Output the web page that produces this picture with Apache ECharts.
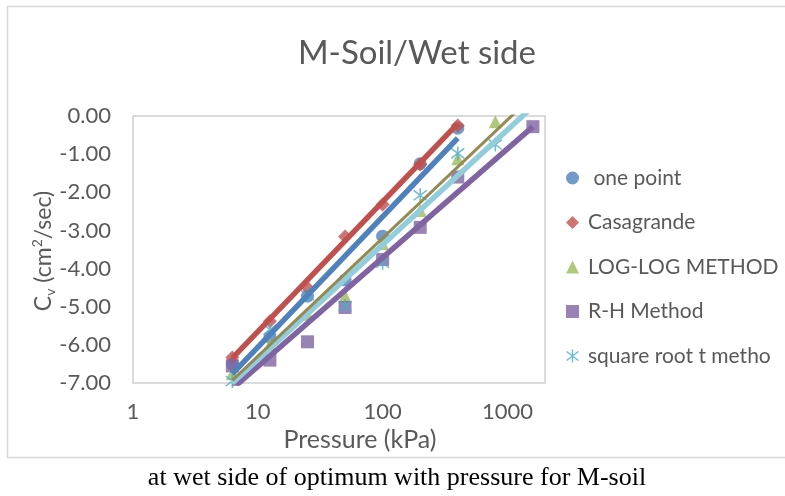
<!DOCTYPE html>
<html>
<head>
<meta charset="utf-8">
<script src="https://cdn.jsdelivr.net/npm/echarts@6/dist/echarts.min.js"></script>
<style>html,body{margin:0;padding:0;background:#fff;}#chart{width:785px;height:496px;}</style>
</head>
<body>
<div id="chart"></div>
<script>
// ---- data ----
const seriesNames = [' one point', 'Casagrande', 'LOG-LOG METHOD', 'R-H Method', 'square root t metho'];
const xTickLabels = ['1', '10', '100', '1000'];
const yTickValues = [0, -1, -2, -3, -4, -5, -6, -7];

const onePointP = [6.25, 12.5, 25, 50, 100, 200, 400];
const onePointCv = [-6.5, -5.8, -4.72, -4.3, -3.15, -1.25, -0.32];

const casagrandeP = [6.25, 12.5, 25, 50, 100, 200, 400];
const casagrandeCv = [-6.33, -5.38, -4.5, -3.16, -2.32, -1.27, -0.25];

const logLogP = [6.25, 12.5, 25, 50, 100, 200, 400, 800];
const logLogCv = [-6.75, -6.0, -5.2, -4.72, -3.35, -2.48, -1.12, -0.15];

const rhP = [6.25, 12.5, 25, 50, 100, 200, 400, 1600];
const rhCv = [-6.55, -6.4, -5.92, -5.02, -3.76, -2.92, -1.6, -0.28];

const sqrtP = [6.25, 12.5, 25, 50, 100, 200, 400, 800];
const sqrtCv = [-6.95, -5.6, -4.7, -4.98, -3.85, -2.08, -0.98, -0.75];

// trendline end points
const onePointTrendP = [6.25, 400];
const onePointTrendCv = [-6.76, -0.58];
const casagrandeTrendP = [6.25, 400];
const casagrandeTrendCv = [-6.35, -0.2];
const logLogTrendP = [6.25, 1600];
const logLogTrendCv = [-6.93, 0.53];
const rhTrendP = [6.25, 1600];
const rhTrendCv = [-7.15, -0.28];
const sqrtTrendP = [6.25, 1600];
const sqrtTrendCv = [-7.0, 0.25];

// ---- styling ----
const FONT = 'Lato';
const GREY = '#595959';
function bar(x1, y1, x2, y2, w) {
  const dx = x2 - x1, dy = y2 - y1, L = Math.hypot(dx, dy);
  const nx = -dy / L * w, ny = dx / L * w;
  return 'M' + (x1 + nx) + ',' + (y1 + ny) + 'L' + (x2 + nx) + ',' + (y2 + ny) +
         'L' + (x2 - nx) + ',' + (y2 - ny) + 'L' + (x1 - nx) + ',' + (y1 - ny) + 'Z';
}
const asterisk = 'path://' + bar(10, 0, 10, 20, 1.1) + bar(1, 3, 19, 17, 1.1) + bar(1, 17, 19, 3, 1.1);

function pairs(xs, ys) { return xs.map((x, i) => [x, ys[i]]); }

function scatter(name, xs, ys, color, symbol, size) {
  return { name, type: 'scatter', data: pairs(xs, ys), symbol, symbolSize: size,
           itemStyle: { color }, z: 2, silent: true };
}
function trend(name, xs, ys, color, width, z) {
  return { name, type: 'line', data: pairs(xs, ys), showSymbol: false, symbol: 'none',
           lineStyle: { color, width }, itemStyle: { color }, z, clip: true, silent: true };
}

const chart = echarts.init(document.getElementById('chart'), null, { renderer: 'canvas' });
const option = {
  animation: false,
  backgroundColor: '#ffffff',
  grid: { left: 133, top: 116, width: 412, height: 267, show: true,
          borderColor: '#d0d0d0', borderWidth: 1.5, backgroundColor: 'transparent' },
  xAxis: {
    type: 'log', logBase: 10, min: 1, max: 2000,
    axisLine: { show: false }, axisTick: { show: false }, splitLine: { show: false },
    axisLabel: {
      color: GREY, fontFamily: FONT, fontSize: 22, margin: 18,
      showMaxLabel: false,
      formatter: function (v) {
        const l = Math.log10(v);
        if (Math.abs(l - Math.round(l)) < 1e-6) {
          const idx = Math.round(l);
          return xTickLabels[idx] !== undefined ? xTickLabels[idx] : '';
        }
        return '';
      }
    }
  },
  yAxis: {
    type: 'value', min: yTickValues[yTickValues.length - 1], max: yTickValues[0], interval: 1,
    axisLine: { show: false }, axisTick: { show: false }, splitLine: { show: false },
    axisLabel: { color: GREY, fontFamily: FONT, fontSize: 22, margin: 22,
                 formatter: v => v.toFixed(2) }
  },
  legend: {
    data: seriesNames, orient: 'vertical', left: 566, top: 167, padding: 0,
    itemGap: 22.5, itemWidth: 13, itemHeight: 13, selectedMode: false,
    textStyle: { color: GREY, fontFamily: FONT, fontSize: 21, lineHeight: 22, padding: [0, 0, 0, 4] }
  },
  graphic: [
    { type: 'rect', shape: { x: 7.5, y: 6.5, width: 900, height: 451 },
      style: { fill: 'none', stroke: '#d9d9d9', lineWidth: 1.5 }, z: -10, silent: true },
    { type: 'text', x: 417, y: 53,
      style: { text: 'M-Soil/Wet side', fill: GREY, font: '33px ' + FONT,
               textAlign: 'center', textVerticalAlign: 'middle' } },
    { type: 'text', x: 360, y: 440,
      style: { text: 'Pressure (kPa)', fill: GREY, font: '25px ' + FONT,
               textAlign: 'center', textVerticalAlign: 'middle' } },
    { type: 'text', x: 44, y: 251, rotation: Math.PI / 2,
      style: {
        text: '{c|C}{s|v}{c| (cm}{p|2}{c|/sec)}',
        textAlign: 'center', textVerticalAlign: 'middle',
        rich: {
          c: { fill: GREY, fontFamily: FONT, fontSize: 23, lineHeight: 27, verticalAlign: 'middle' },
          s: { fill: GREY, fontFamily: FONT, fontSize: 14, lineHeight: 15, verticalAlign: 'bottom' },
          p: { fill: GREY, fontFamily: FONT, fontSize: 14, lineHeight: 15, verticalAlign: 'top' }
        }
      } },
    { type: 'text', x: 397, y: 478,
      style: { text: 'at wet side of optimum with pressure for M-soil', fill: '#000',
               font: '26px "Liberation Serif"', textAlign: 'center', textVerticalAlign: 'middle' } }
  ],
  series: [
    scatter(seriesNames[0], onePointP, onePointCv, '#4f81bd', 'circle', 13),
    scatter(seriesNames[1], casagrandeP, casagrandeCv, '#c0504d', 'diamond', 14),
    scatter(seriesNames[2], logLogP, logLogCv, '#9bbb59', 'triangle', 13),
    scatter(seriesNames[3], rhP, rhCv, '#8064a2', 'rect', 13),
    scatter(seriesNames[4], sqrtP, sqrtCv, '#4bacc6', asterisk, 14),
    trend('rh trend', rhTrendP, rhTrendCv, '#8064a2', 5.5, 3),
    trend('sqrt trend', sqrtTrendP, sqrtTrendCv, '#92cddc', 5.5, 4),
    trend('loglog trend', logLogTrendP, logLogTrendCv, '#948a54', 3, 5),
    trend('onepoint trend', onePointTrendP, onePointTrendCv, '#4f81bd', 5.5, 6),
    trend('casagrande trend', casagrandeTrendP, casagrandeTrendCv, '#c0504d', 5.5, 7)
  ]
};
chart.setOption(option);
</script>
</body>
</html>
